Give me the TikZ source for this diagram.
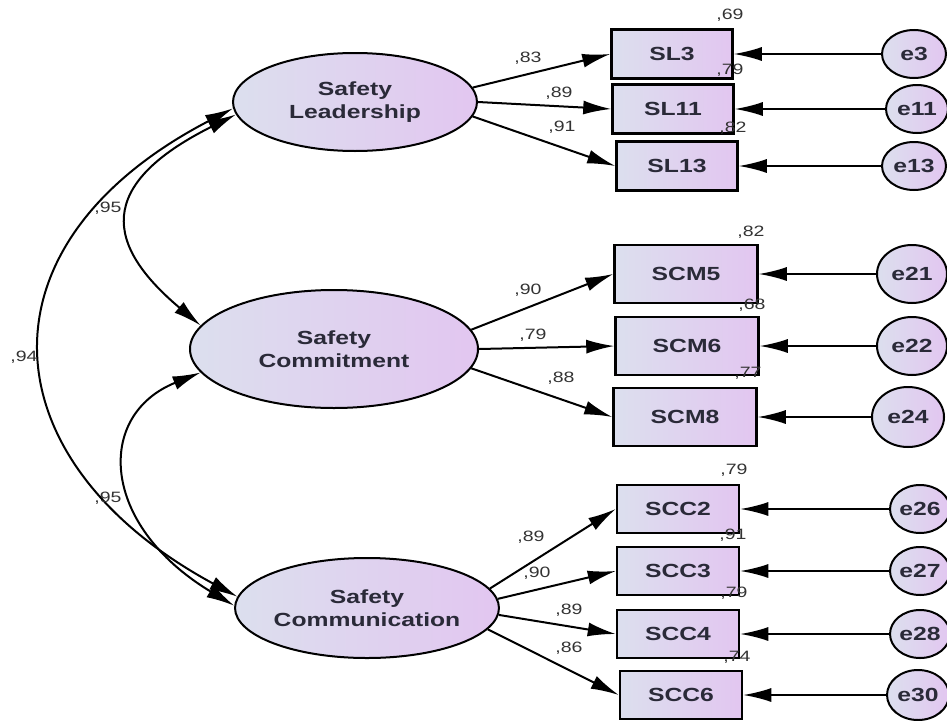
\documentclass[tikz,border=0pt]{standalone}
\usepackage{fontspec}
\setmainfont{Liberation Sans}[FakeStretch=1.3, BoldFeatures={FakeStretch=1.3}]
\usetikzlibrary{arrows.meta,shapes.geometric}
\definecolor{shL}{HTML}{DCDFEE}
\definecolor{shR}{HTML}{E2C6F0}
\definecolor{ink}{HTML}{2A2A38}
\definecolor{lbl}{HTML}{333333}
\begin{document}
\begin{tikzpicture}[x=1pt,y=-1pt,
  >={Latex[length=28pt,width=14pt]},
  latent/.style={ellipse, draw=black, line width=2pt, left color=shL, right color=shR,
    inner sep=0pt, font=\fontsize{19}{23}\selectfont\bfseries, text=ink, align=center},
  obs/.style={rectangle, draw=black, line width=2.5pt, left color=shL, right color=shR,
    inner sep=0pt, font=\fontsize{19}{21}\selectfont\bfseries, text=ink},
  err/.style={ellipse, draw=black, line width=2pt, left color=shL, right color=shR,
    inner sep=0pt, font=\fontsize{19}{21}\selectfont\bfseries, text=ink},
  coef/.style={inner sep=0pt, font=\fontsize{15}{17}\selectfont, text=lbl},
  load/.style={->, line width=2pt},
  errl/.style={->, line width=1.8pt},
  cov/.style={<->, line width=2pt}]
\useasboundingbox (0,0) rectangle (947,720);

% latent variables
\node[latent, minimum width=244pt, minimum height=98pt] (SL) at (355,102) {Safety\\Leadership};
\node[latent, minimum width=288pt, minimum height=118pt] (SCM) at (334,349) {Safety\\Commitment};
\node[latent, minimum width=242pt, minimum height=100pt] (SCC) at (367,608) {Safety\\Communication};

% observed
\node[obs, minimum width=121pt, minimum height=49pt] (SL3) at (672,54) {SL3};
\node[obs, minimum width=121pt, minimum height=49pt] (SL11) at (673,109) {SL11};
\node[obs, minimum width=121pt, minimum height=49pt] (SL13) at (677,166) {SL13};
\node[obs, minimum width=143pt, minimum height=58pt] (SCM5) at (686,274) {SCM5};
\node[obs, minimum width=143pt, minimum height=58pt] (SCM6) at (687,346) {SCM6};
\node[obs, minimum width=143pt, minimum height=58pt] (SCM8) at (685,417) {SCM8};
\node[obs, minimum width=122pt, minimum height=48pt] (SCC2) at (678,509) {SCC2};
\node[obs, minimum width=122pt, minimum height=48pt] (SCC3) at (678,571) {SCC3};
\node[obs, minimum width=122pt, minimum height=48pt] (SCC4) at (678,634) {SCC4};
\node[obs, minimum width=122pt, minimum height=48pt] (SCC6) at (681,695) {SCC6};

% errors
\node[err, minimum width=64pt, minimum height=48pt] (e3) at (914,54) {e3};
\node[err, minimum width=62pt, minimum height=48pt] (e11) at (917,109) {e11};
\node[err, minimum width=64pt, minimum height=48pt] (e13) at (914,166) {e13};
\node[err, minimum width=70pt, minimum height=58pt] (e21) at (912,274) {e21};
\node[err, minimum width=70pt, minimum height=58pt] (e22) at (912,346) {e22};
\node[err, minimum width=72pt, minimum height=60pt] (e24) at (908,417) {e24};
\node[err, minimum width=60pt, minimum height=48pt] (e26) at (920,509) {e26};
\node[err, minimum width=60pt, minimum height=48pt] (e27) at (920,571) {e27};
\node[err, minimum width=60pt, minimum height=48pt] (e28) at (920,634) {e28};
\node[err, minimum width=62pt, minimum height=50pt] (e30) at (918,695) {e30};

% loadings
\draw[load] (SL.7) -- (SL3.west);
\draw[load] (SL.0) -- (SL11.west);
\draw[load] (SL.-7) -- (SL13.west);
\draw[load] (SCM.8) -- (SCM5.west);
\draw[load] (SCM.0) -- (SCM6.west);
\draw[load] (SCM.-8) -- (SCM8.west);
\draw[load] (SCC.9) -- (SCC2.west);
\draw[load] (SCC.4) -- (SCC3.west);
\draw[load] (SCC.-3) -- (SCC4.west);
\draw[load] (SCC.-10) -- (SCC6.west);

% error arrows
\draw[errl] (e3) -- (SL3.east);
\draw[errl] (e11) -- (SL11.east);
\draw[errl] (e13) -- (SL13.east);
\draw[errl] (e21) -- (SCM5.east);
\draw[errl] (e22) -- (SCM6.east);
\draw[errl] (e24) -- (SCM8.east);
\draw[errl] (e26) -- (SCC2.east);
\draw[errl] (e27) -- (SCC3.east);
\draw[errl] (e28) -- (SCC4.east);
\draw[errl] (e30) -- (SCC6.east);

% covariances
\draw[cov] (SL.186) .. controls (95,185) and (105,245) .. (SCM.170);
\draw[cov] (SL.183) .. controls (-30,245) and (-12,462) .. (SCC.175);
\draw[cov] (SCM.190) .. controls (95,415) and (100,525) .. (SCC.179);

% covariance labels
\node[coef] (k1) at (108,208) {,95};
\node[coef] (k2) at (24,357) {,94};
\node[coef] (k3) at (108,498) {,95};

% loading labels
\node[coef] (l1) at (528,58) {,83};
\node[coef] (l2) at (559,93) {,89};
\node[coef] (l3) at (562,127) {,91};
\node[coef] (l4) at (528,290) {,90};
\node[coef] (l5) at (533,335) {,79};
\node[coef] (l6) at (561,378) {,88};
\node[coef] (l7) at (531,537) {,89};
\node[coef] (l8) at (537,573) {,90};
\node[coef] (l9) at (569,610) {,89};
\node[coef] (l10) at (569,648) {,86};

% R squared labels
\node[coef] (r1) at (730,15) {,69};
\node[coef] (r2) at (730,70) {,79};
\node[coef] (r3) at (733,128) {,82};
\node[coef] (r4) at (751,232) {,82};
\node[coef] (r5) at (752,305) {,68};
\node[coef] (r6) at (748,373) {,77};
\node[coef] (r7) at (734,470) {,79};
\node[coef] (r8) at (733,535) {,91};
\node[coef] (r9) at (734,593) {,79};
\node[coef] (r10) at (737,657) {,74};
\end{tikzpicture}
\end{document}
